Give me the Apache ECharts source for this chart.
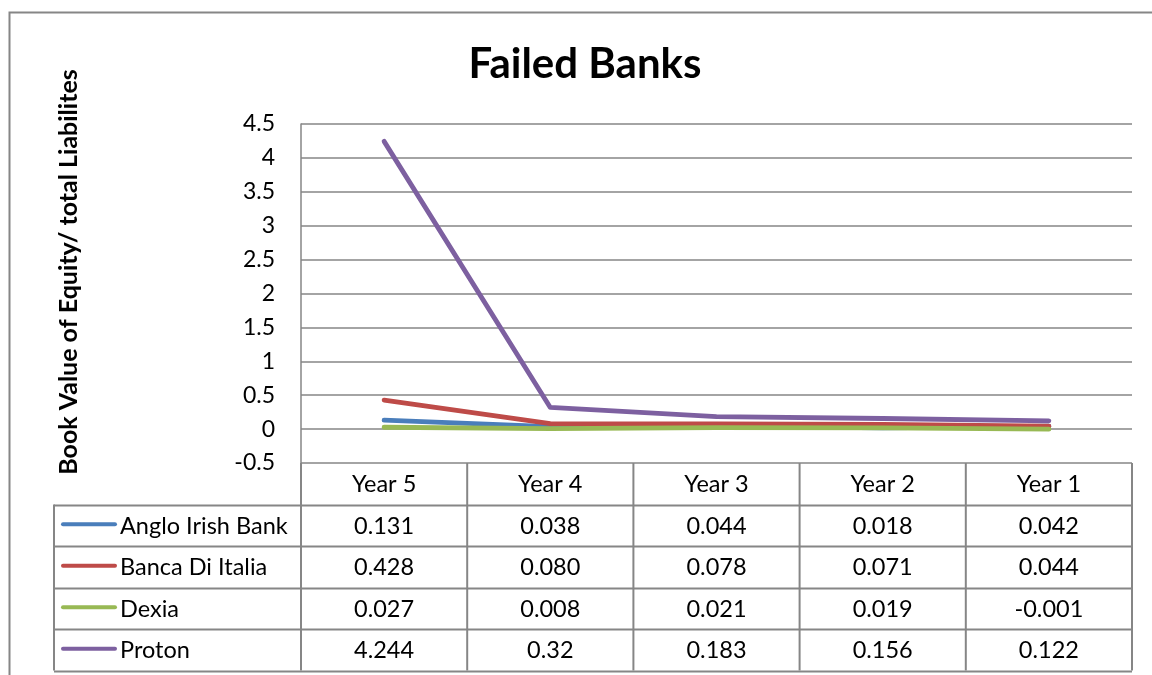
<!DOCTYPE html>
<html>
<head>
<meta charset="utf-8">
<script src="https://cdn.jsdelivr.net/npm/echarts@6/dist/echarts.min.js"></script>
<style>
html,body{margin:0;padding:0;background:#fff;}
#c{width:1152px;height:675px;}
</style>
</head>
<body>
<div id="c"></div>
<script>
var categories = ['Year 5', 'Year 4', 'Year 3', 'Year 2', 'Year 1'];
var seriesNames = ['Anglo Irish Bank', 'Banca Di Italia', 'Dexia', 'Proton'];
var angloIrish = [0.131, 0.038, 0.044, 0.018, 0.042];
var bancaDiItalia = [0.428, 0.080, 0.078, 0.071, 0.044];
var dexia = [0.027, 0.008, 0.021, 0.019, -0.001];
var proton = [4.244, 0.32, 0.183, 0.156, 0.122];
var tableLabels = [
  ['0.131', '0.038', '0.044', '0.018', '0.042'],
  ['0.428', '0.080', '0.078', '0.071', '0.044'],
  ['0.027', '0.008', '0.021', '0.019', '-0.001'],
  ['4.244', '0.32', '0.183', '0.156', '0.122']
];
var colors = ['#4A7EBB', '#BE4B48', '#98B954', '#7D60A0'];
var allData = [angloIrish, bancaDiItalia, dexia, proton];

var FONT = 'Lato, "Open Sans", sans-serif';
var gridLeft = 301, gridRight = 20, gridTop = 124, gridBottom = 212;
var W = 1152, H = 675;
var chart = echarts.init(document.getElementById('c'), null, {renderer: 'canvas'});

var series = seriesNames.map(function (n, i) {
  return {
    name: n, type: 'line', data: allData[i], symbol: 'none',
    lineStyle: {color: colors[i], width: 4.8, cap: 'round', join: 'round'},
    itemStyle: {color: colors[i]}, z: 3 + i
  };
});

chart.setOption({
  animation: false,
  backgroundColor: '#fff',
  grid: {left: gridLeft, right: gridRight, top: gridTop, bottom: gridBottom, containLabel: false},
  xAxis: {
    type: 'category', data: categories, boundaryGap: true,
    axisLine: {show: false}, axisTick: {show: false}, axisLabel: {show: false}, splitLine: {show: false}
  },
  yAxis: {
    type: 'value', min: -0.5, max: 4.5, interval: 0.5,
    axisLine: {show: true, lineStyle: {color: '#868686', width: 1.5}},
    axisTick: {show: false},
    axisLabel: {color: '#000', fontSize: 23, fontFamily: FONT, margin: 26},
    splitLine: {show: true, lineStyle: {color: '#868686', width: 1.5}}
  },
  series: series
});

function buildGraphics() {
  var els = [];
  var lineColor = '#868686';
  var TXT = '23.5px ' + FONT;
  // outer border
  els.push({type: 'rect', shape: {x: 9.5, y: 12.5, width: 1160, height: 680}, style: {fill: null, stroke: lineColor, lineWidth: 2}, silent: true, z: 0});
  // title
  els.push({type: 'text', x: 585, y: 64, style: {text: 'Failed Banks', font: 'bold 42px ' + FONT, fill: '#000', align: 'center', verticalAlign: 'middle'}});
  // y axis title
  els.push({type: 'text', x: 69, y: 272, rotation: Math.PI / 2, style: {text: 'Book Value of Equity/ total Liabilites', font: 'bold 25px ' + FONT, fill: '#000', align: 'center', verticalAlign: 'middle'}});

  var plotRight = W - gridRight;
  var tableTop = H - gridBottom;
  var rowH = 41.5;
  var nRows = seriesNames.length + 1;
  var tableBottom = tableTop + rowH * nRows;
  var legendLeft = 54;
  var centers = categories.map(function (c, i) { return chart.convertToPixel({xAxisIndex: 0}, i); });
  var band = (plotRight - gridLeft) / categories.length;

  // horizontal lines
  for (var r = 1; r <= nRows; r++) {
    var y = Math.round(tableTop + rowH * r) + 0.5;
    els.push({type: 'line', shape: {x1: legendLeft, y1: y, x2: plotRight, y2: y}, style: {stroke: lineColor, lineWidth: 2}, silent: true});
  }
  // vertical lines
  var vx = [gridLeft];
  centers.forEach(function (cx) { vx.push(cx + band / 2); });
  vx.forEach(function (x) {
    els.push({type: 'line', shape: {x1: x, y1: tableTop, x2: x, y2: tableBottom}, style: {stroke: lineColor, lineWidth: 2}, silent: true});
  });
  els.push({type: 'line', shape: {x1: legendLeft, y1: tableTop + rowH, x2: legendLeft, y2: tableBottom}, style: {stroke: lineColor, lineWidth: 2}, silent: true});

  // header
  categories.forEach(function (c, i) {
    els.push({type: 'text', x: centers[i], y: tableTop + rowH / 2 + 1, style: {text: c, font: TXT, fill: '#000', align: 'center', verticalAlign: 'middle'}});
  });
  // rows
  seriesNames.forEach(function (n, s) {
    var cy = tableTop + rowH * (s + 1.5) + 1;
    els.push({type: 'line', shape: {x1: 63, y1: cy - 2, x2: 115, y2: cy - 2}, style: {stroke: colors[s], lineWidth: 4, lineCap: 'round'}, silent: true});
    els.push({type: 'text', x: 120, y: cy, style: {text: n, font: TXT, fill: '#000', align: 'left', verticalAlign: 'middle'}});
    tableLabels[s].forEach(function (t, i) {
      els.push({type: 'text', x: centers[i], y: cy, style: {text: t, font: TXT, fill: '#000', align: 'center', verticalAlign: 'middle'}});
    });
  });
  chart.setOption({graphic: {elements: els}});
}
buildGraphics();
</script>
</body>
</html>
